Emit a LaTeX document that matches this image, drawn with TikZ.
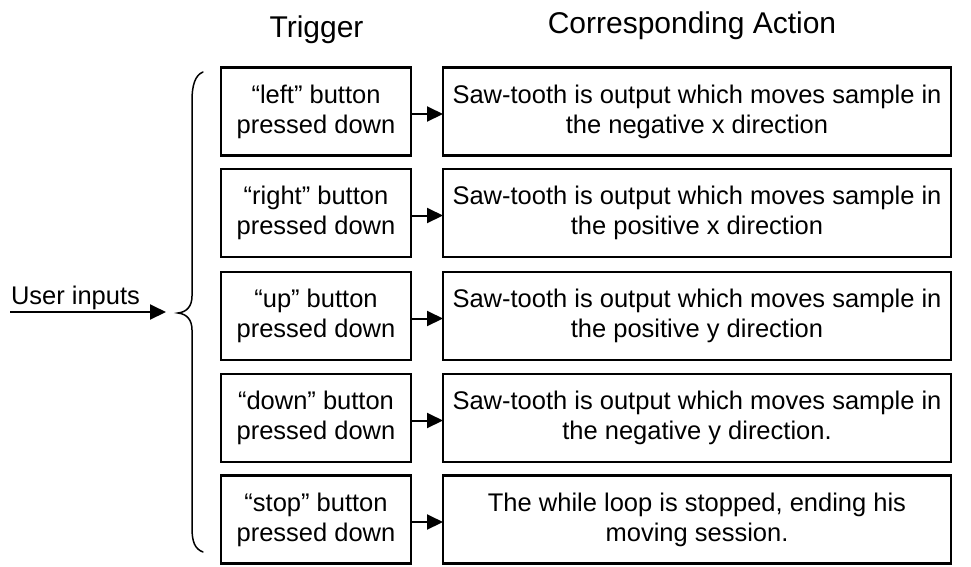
\documentclass[tikz,border=0pt]{standalone}
\usepackage{fontspec}
\setmainfont{Liberation Sans}
\usetikzlibrary{arrows.meta}

\begin{document}
\begin{tikzpicture}[x=1pt,y=-1pt,
  every node/.style={inner sep=0pt, outer sep=0pt},
  heading/.style={font=\fontsize{30}{34}\selectfont, anchor=base},
  boxtext/.style={draw, line width=2.2pt, align=center,
    font=\fontsize{25.5}{30}\selectfont, minimum height=88pt},
  trigbox/.style={boxtext, minimum width=190pt},
  actbox/.style={boxtext, minimum width=508pt},
  conn/.style={line width=2pt, -{Triangle[length=16pt,width=15pt]}},
  bracepath/.style={line width=1.5pt, line cap=round}
]
\useasboundingbox (0,0) rectangle (971,566);

% column headings
\node[heading] (htrig) at (316.5,37) {Trigger};
\node[heading] (hact)  at (692,33.5) {Corresponding Action};

% trigger boxes
\node[trigbox] (t1) at (316,111.5) {“left” button\\pressed down};
\node[trigbox] (t2) at (316,213)   {“right” button\\pressed down};
\node[trigbox] (t3) at (316,316)   {“up” button\\pressed down};
\node[trigbox] (t4) at (316,418)   {“down” button\\pressed down};
\node[trigbox] (t5) at (316,519.5) {“stop” button\\pressed down};

% action boxes
\node[actbox] (a1) at (697,111.5) {Saw-tooth is output which moves sample in\\the negative x direction};
\node[actbox] (a2) at (697,213)   {Saw-tooth is output which moves sample in\\the positive x direction};
\node[actbox] (a3) at (697,316)   {Saw-tooth is output which moves sample in\\the positive y direction};
\node[actbox] (a4) at (697,418)   {Saw-tooth is output which moves sample in\\the negative y direction.};
\node[actbox] (a5) at (697,519.5) {The while loop is stopped, ending his\\moving session.};

% trigger -> action connectors
\foreach \i in {1,...,5}
  \draw[conn] ([yshift=-2.5pt]t\i.east) -- ([yshift=-2.5pt]a\i.west);

% user inputs label with its arrow
\node[anchor=base west, font=\fontsize{25.5}{30}\selectfont] (ui) at (11,304) {User inputs};
\coordinate (uistart) at (10,312);
\coordinate (uiend) at (166,312);
\draw[conn] (uistart) -- (uiend);

% curly brace grouping the triggers
\draw[bracepath] (203,72) .. controls (195,75) and (192,86) .. (192,100)
  -- (192,296) .. controls (192,306) and (187,312) .. (178,313)
  .. controls (187,314) and (192,320) .. (192,330)
  -- (192,528) .. controls (192,542) and (195,549) .. (203,552);
\end{tikzpicture}
\end{document}
